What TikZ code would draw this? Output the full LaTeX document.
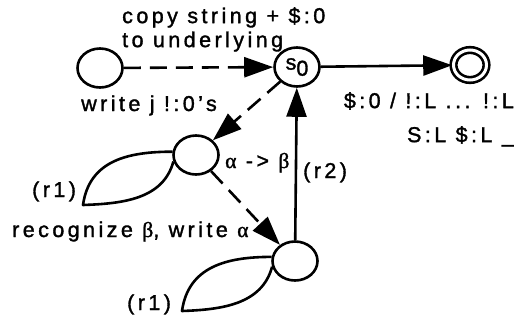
\documentclass[tikz,border=0pt]{standalone}
\usepackage{fontspec}
\setmainfont{Liberation Sans}[LetterSpace=16, FakeBold=1.5]
\newfontfamily\greekfont{Liberation Serif}[FakeBold=1.5]
\usetikzlibrary{positioning,arrows.meta,shapes.geometric}

\newcommand{\galpha}{{\greekfont α}}
\newcommand{\gbeta}{{\greekfont β}}

\begin{document}
\begin{tikzpicture}[
    x=1pt, y=1pt,
    every node/.style={font=\fontsize{21.5}{24}\selectfont},
    state/.style={draw, ellipse, line width=2.6pt, minimum width=45pt, minimum height=39pt, inner sep=0pt},
    accept/.style={state, double, double distance=3pt, minimum width=33pt, minimum height=30pt},
    lbl/.style={inner sep=0pt},
    arr/.style={-{Triangle[length=29pt,width=20pt]}, line width=2.6pt},
    dasharr/.style={arr, dash pattern=on 17pt off 9pt},
    petal/.style={line width=2.6pt, line join=round}
]
\useasboundingbox (0,0) rectangle (514,325);

\node[state] (start) at (100,257) {};
\node[state] (s0) at (297,258) {s\raisebox{-6pt}{0}};
\node[accept] (fin) at (470,260) {};
\node[state] (wj) at (196,170) {};
\node[state] (rb) at (295,64) {};

\coordinate (wjtip) at (83,120);
\coordinate (rbtip) at (182,14);

\draw[dasharr] (start) -- (s0);
\draw[arr] (s0) -- (fin);
\draw[dasharr] (s0) -- (wj);
\draw[dasharr] (wj) -- (rb);
\draw[arr] (rb) -- (s0);

% self loops (r1)
\draw[petal] (wj.172) to[out=180, in=82, looseness=1.1] (wjtip) to[out=2, in=-105] (wj.196);
\draw[petal] (rb.170) to[out=180, in=82, looseness=1.1] (rbtip) to[out=2, in=-105] (rb.194);

% labels
\node[lbl, anchor=north west, align=left] (copylbl) at (122,318) {copy string + \$:0\\to underlying};
\node[lbl, anchor=base east] (wlbl) at (217,214) {write j !:0's};
\node[lbl, anchor=north east, align=right] (outlbl) at (514,233) {\$:0 / !:L ... !:L\\[10pt]S:L \$:L \_};
\node[lbl, anchor=base west] (ablbl) at (225,157) {\galpha\ -> \gbeta};
\node[lbl, anchor=base west] (reclbl) at (12,88) {recognize \gbeta, write \galpha};
\node[lbl, anchor=base west] (r1a) at (32,128) {(r1)};
\node[lbl, anchor=base west] (r1b) at (127,15) {(r1)};
\node[lbl, anchor=base west] (r2lbl) at (303,147) {(r2)};
\end{tikzpicture}
\end{document}
